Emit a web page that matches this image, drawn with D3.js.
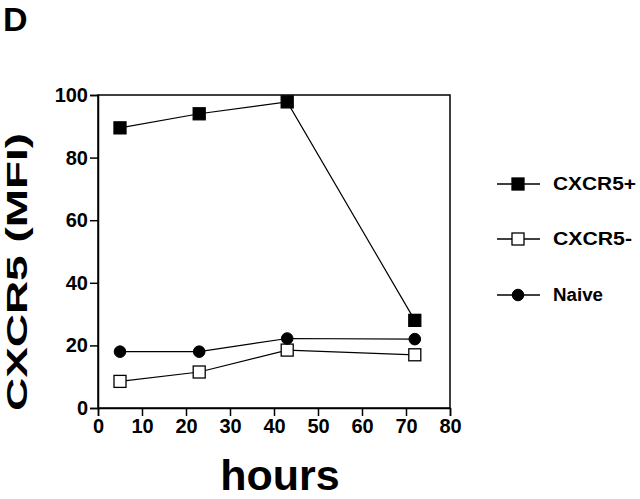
<!DOCTYPE html>
<html>
<head>
<meta charset="utf-8">
<script src="https://cdn.jsdelivr.net/npm/d3@7"></script>
<style>
  body { margin: 0; background: #fff; }
  text { font-family: "Liberation Sans", Arial, sans-serif; font-weight: bold; fill: #000; }
</style>
</head>
<body>
<div id="chart"></div>
<script>
const hoursX = [5, 23, 43, 72];
const cxcr5Pos = [89.5, 94, 97.8, 28];
const cxcr5Neg = [8.5, 11.5, 18.5, 17];
const naive = [18, 18, 22.2, 22];
const xTicks = [0, 10, 20, 30, 40, 50, 60, 70, 80];
const yTicks = [0, 20, 40, 60, 80, 100];

const series = [
  { name: "CXCR5+", values: cxcr5Pos, shape: "square", fill: "#000" },
  { name: "CXCR5-", values: cxcr5Neg, shape: "square", fill: "#fff" },
  { name: "Naive", values: naive, shape: "circle", fill: "#000" },
];

const width = 640, height = 499;
const margin = { top: 95, right: 190, bottom: 91, left: 98 };

const svg = d3.select("#chart").append("svg")
  .attr("width", width).attr("height", height);

const x = d3.scaleLinear().domain([0, 80]).range([margin.left, width - margin.right]);
const y = d3.scaleLinear().domain([0, 100]).range([height - margin.bottom, margin.top]);

// frame
svg.append("rect")
  .attr("x", x(0)).attr("y", y(100))
  .attr("width", x(80) - x(0)).attr("height", y(0) - y(100))
  .attr("fill", "none").attr("stroke", "#000").attr("stroke-width", 1.5);

const xAxis = svg.append("g")
  .attr("transform", `translate(0,${y(0)})`)
  .call(d3.axisBottom(x).tickValues(xTicks).tickSize(8).tickPadding(3));
const yAxis = svg.append("g")
  .attr("transform", `translate(${x(0)},0)`)
  .call(d3.axisLeft(y).tickValues(yTicks).tickSize(8).tickPadding(2));

for (const ax of [xAxis, yAxis]) {
  ax.select(".domain").attr("stroke-width", 1.5);
  ax.selectAll(".tick line").attr("stroke-width", 1.5);
  ax.selectAll("text").attr("font-size", 20)
    .attr("font-family", "Liberation Sans, Arial, sans-serif").attr("font-weight", "bold");
}

const line = d3.line().x((d, i) => x(hoursX[i])).y(d => y(d));

function marker(sel, s, cx, cy) {
  if (s.shape === "square") {
    sel.append("rect")
      .attr("x", cx - 6).attr("y", cy - 6).attr("width", 12).attr("height", 12)
      .attr("fill", s.fill).attr("stroke", "#000").attr("stroke-width", 1.3);
  } else {
    sel.append("circle").attr("cx", cx).attr("cy", cy).attr("r", 5.8)
      .attr("fill", s.fill).attr("stroke", "#000").attr("stroke-width", 1);
  }
}

series.forEach(s => {
  svg.append("path").datum(s.values)
    .attr("d", line).attr("fill", "none").attr("stroke", "#000").attr("stroke-width", 1.2);
  const g = svg.append("g");
  s.values.forEach((v, i) => marker(g, s, x(hoursX[i]), y(v)));
});

// legend
const legY = [184, 239, 295];
series.forEach((s, i) => {
  const g = svg.append("g");
  g.append("line").attr("x1", 497).attr("x2", 540).attr("y1", legY[i]).attr("y2", legY[i])
    .attr("stroke", "#000").attr("stroke-width", 1.3);
  marker(g, s, 518, legY[i]);
  g.append("text").attr("x", 553).attr("y", legY[i] + 6)
    .attr("font-size", 17.5)
    .attr("textLength", [83, 79, 50][i]).attr("lengthAdjust", "spacingAndGlyphs")
    .text(s.name);
});

// titles
svg.append("text").attr("x", 3).attr("y", 31).attr("font-size", 34).text("D");

svg.append("text")
  .attr("transform", `translate(27,272) rotate(-90)`)
  .attr("text-anchor", "middle").attr("font-size", 30)
  .attr("textLength", 278).attr("lengthAdjust", "spacingAndGlyphs")
  .text("CXCR5 (MFI)");

svg.append("text")
  .attr("x", 280).attr("y", 490).attr("text-anchor", "middle")
  .attr("font-size", 43).text("hours");
</script>
</body>
</html>
